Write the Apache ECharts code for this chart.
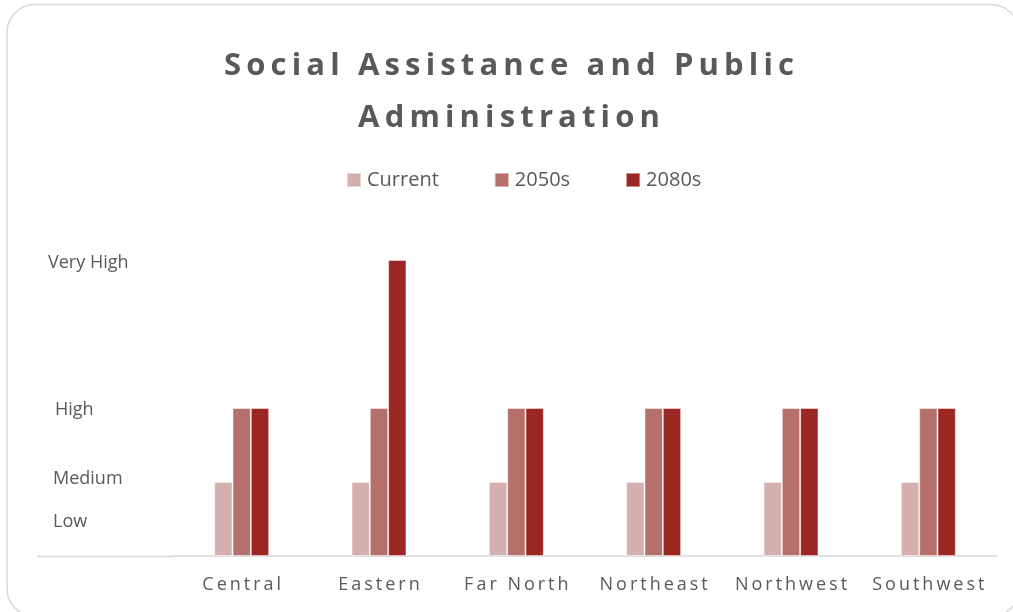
<!DOCTYPE html>
<html>
<head>
<meta charset="utf-8">
<script src="https://cdn.jsdelivr.net/npm/echarts@6/dist/echarts.min.js"></script>
<style>
  html, body { margin: 0; padding: 0; background: #ffffff; }
  #chart { width: 1013px; height: 612px; }
</style>
</head>
<body>
<div id="chart"></div>
<script>
// Risk level by region (1 = Medium, 2 = High, 4 = Very High)
const regions = ['Central', 'Eastern', 'Far North', 'Northeast', 'Northwest', 'Southwest'];
const currentValues = [1, 1, 1, 1, 1, 1];
const values2050s = [2, 2, 2, 2, 2, 2];
const values2080s = [2, 4, 2, 2, 2, 2];

// Level labels along the value axis
const levelValues = [0.46, 1.04, 1.97, 3.96];
const levelLabels = ['Low', 'Medium', 'High', 'Very High'];

const seriesNames = ['Current', '2050s', '2080s'];
const seriesColors = ['#d3afae', '#b5706c', '#9b2723'];

const spaced = (s, sep) => Array.from(s).join(sep);

const chart = echarts.init(document.getElementById('chart'), null, { renderer: 'canvas' });

const labelStyleKey = { 'Low': 'l', 'Medium': 'm', 'High': 'h', 'Very High': 'vh' };
const levelFont = { fontFamily: 'Open Sans', fontSize: 18, color: '#595959' };

chart.setOption({
  animation: false,
  backgroundColor: '#ffffff',
  title: {
    text: spaced('Social Assistance and Public', '\u2009') + '\n' + spaced('Administration', '\u2009'),
    left: 504,
    top: 35,
    textAlign: 'center',
    textStyle: {
      fontFamily: 'Open Sans',
      fontWeight: 'bold',
      fontSize: 31,
      color: '#595959',
      lineHeight: 52
    }
  },
  legend: {
    top: 170,
    left: 346,
    padding: 0,
    itemWidth: 14,
    itemHeight: 14,
    itemGap: 55,
    icon: 'rect',
    textStyle: { fontFamily: 'Open Sans', fontSize: 20, color: '#595959', padding: [0, 0, 0, 1] },
    data: seriesNames
  },
  grid: { left: 173, right: 16, top: 260, bottom: 56 },
  xAxis: {
    type: 'category',
    data: regions,
    axisLine: { show: true, lineStyle: { color: '#d9d9d9', width: 1.5 } },
    axisTick: { show: false },
    axisLabel: {
      interval: 0,
      margin: 20,
      fontFamily: 'Open Sans',
      fontSize: 18,
      color: '#595959',
      formatter: v => spaced(v, '\u2009')
    }
  },
  yAxis: {
    type: 'value',
    min: 0,
    max: 4,
    axisLine: { show: false },
    axisTick: { show: false },
    splitLine: { show: false },
    axisLabel: {
      customValues: levelValues,
      align: 'left',
      margin: 125,
      fontFamily: 'Open Sans',
      fontSize: 18,
      color: '#595959',
      formatter: v => {
        const t = levelLabels[levelValues.indexOf(v)];
        return '{' + labelStyleKey[t] + '|' + t + '}';
      },
      rich: {
        vh: Object.assign({ padding: [0, 0, 0, 0] }, levelFont),
        h: Object.assign({ padding: [0, 0, 0, 7] }, levelFont),
        m: Object.assign({ padding: [0, 0, 0, 5] }, levelFont),
        l: Object.assign({ padding: [0, 0, 0, 5] }, levelFont)
      }
    }
  },
  series: [currentValues, values2050s, values2080s].map((vals, i) => ({
    name: seriesNames[i],
    type: 'bar',
    data: vals,
    barGap: '0%',
    barCategoryGap: '60%',
    itemStyle: {
      color: seriesColors[i],
      borderColor: 'rgba(255,255,255,0.45)',
      borderWidth: 1
    }
  })),
  graphic: [
    {
      type: 'rect',
      z: -10,
      shape: { x: 7, y: 4.5, width: 1012, height: 612, r: 28 },
      style: { fill: 'none', stroke: '#d9d9d9', lineWidth: 1.5 },
      silent: true
    },
    {
      type: 'line',
      shape: { x1: 37, y1: 556.5, x2: 174, y2: 556.5 },
      style: { stroke: '#d9d9d9', lineWidth: 1.5 },
      silent: true
    }
  ]
});
</script>
</body>
</html>
